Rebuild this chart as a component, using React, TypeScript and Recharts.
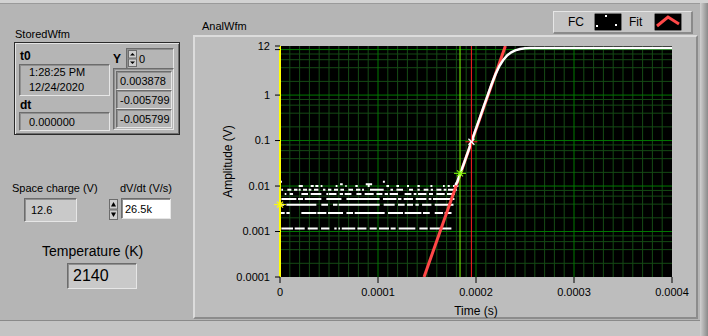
import React from "react";
import {
  ComposedChart,
  Line,
  XAxis,
  YAxis,
  CartesianGrid,
  ReferenceLine,
  ReferenceDot,
} from "recharts";

const FONT = "'Liberation Sans', Arial, sans-serif";
const PANEL = "#b5b5b5";

// time axis is in microseconds, labels shown in seconds
const xTicks = [0, 100, 200, 300, 400];
const xTickLabels = ["0", "0.0001", "0.0002", "0.0003", "0.0004"];
const yTicks = [0.0001, 0.001, 0.01, 0.1, 1, 10, 12];
const yTickLabels = ["0.0001", "0.001", "0.01", "0.1", "1", "", "12"];

const majorX = [100, 200, 300];
const minorX = Array.from({ length: 40 }, (_, i) => i * 10).filter((v) => v % 100 !== 0);
const majorY = [0.001, 0.01, 0.1, 1, 10];
const minorY = [0.0001, 0.001, 0.01, 0.1, 1].flatMap((d) => [2, 4, 6, 8].map((m) => m * d));

// FC: quantised noise runs before the rise, [start, end] in µs
const runs1 = [[1.4, 13.3], [15, 25.2], [28.3, 38.5], [41.9, 50.4], [55.4, 57.8], [59.6, 61.3], [63, 76.8], [79, 88.2], [91.5, 98.7], [101, 111.2], [112.9, 118], [121.1, 138.1], [142.2, 150.7], [152.8, 174.9]];
const runs2 = [[0.7, 4.8], [6.5, 9.9], [21.8, 37.1], [38.2, 47.3], [49, 64.3], [67.8, 74.5], [76.2, 106.8], [110.2, 125.5], [127.2, 144.3], [145.9, 152.8], [157.9, 166.3], [168, 175]];
const runs3 = [[0.7, 4.1], [6.5, 37.1], [42.2, 49], [54.1, 58.6], [59.9, 101.7], [105.8, 117], [120.4, 127.2], [129.6, 135.7], [138.2, 141.6], [145, 154.5], [157.9, 177]];
const runs4 = [[1.4, 16.7], [18.4, 23.5], [25.2, 42.2], [47.3, 62.7], [67.8, 101.7], [105.1, 118.8], [120.4, 123.9], [126.2, 135.7], [138.5, 149.4], [151.7, 154.5], [156.1, 178]];
const runs5 = [[4.8, 6.5], [9.9, 13.3], [21.8, 28.6], [31.3, 42.2], [47.3, 49], [49.7, 57.6], [60.9, 64.3], [66, 72.9], [78, 83.1], [86.4, 95.6], [98.4, 104.5], [106.8, 110.2], [111.9, 120.4], [127.2, 134.1], [136.4, 139.2], [140.8, 149.4], [152, 156.1], [159.6, 168.1], [170.4, 178.3]];
const runs6 = [[1.4, 3.1], [7.5, 11.6], [14.3, 17.8], [19.1, 21.1], [23.5, 27.6], [29.3, 32], [34.7, 39.2], [43.9, 46.3], [49, 52.4], [55.1, 59.2], [61.6, 65.3], [69.8, 74.5], [77.6, 82], [83.7, 85.7], [91.8, 105.8], [112.7, 115.3], [118.8, 125.5], [131.6, 135.7], [140.2, 142.6], [146.6, 151.4], [153.8, 156.1], [159.6, 164.7], [167, 169.8], [171.4, 180.6]];
const runs7 = [[19.1, 23.3], [31.3, 34.4], [36.1, 39.2], [41.5, 43.3], [56.8, 58.6], [66.7, 68], [76.9, 79.3], [89.5, 91.5], [108.6, 111.2], [118.8, 121.4], [129.6, 131.6], [140.2, 142.6], [153.5, 155.5], [166.3, 168.1], [171.1, 173.2], [176.5, 182]];
const runs8 = [[61.3, 64], [87.5, 94]];
const runs9 = [[0.5, 2], [105, 107]];
const noiseLevels = [0.00116, 0.00256, 0.0039, 0.0052, 0.0067, 0.0083, 0.01, 0.011, 0.0125];
const noiseRuns = [runs1, runs2, runs3, runs4, runs5, runs6, runs7, runs8, runs9];

// FC: the rising edge and plateau
const fcTime = [179, 181, 184, 188, 192, 196, 200, 204, 208, 212, 216, 220, 224, 228, 232, 236, 240, 245, 250, 255, 400];
const fcAmp = [0.0105, 0.0125, 0.019, 0.033, 0.058, 0.104, 0.183, 0.32, 0.57, 1.0, 1.75, 2.9, 4.4, 6.0, 7.5, 8.7, 9.6, 10.3, 10.7, 10.8, 10.8];

// Fit: straight line on the log axis
const fitTime = [147, 230];
const fitAmp = [0.0001, 12];

// cursors: [time µs, amplitude at marker]
const cursorYellow = [0, 0.0039];
const cursorGreen = [183.7, 0.019];
const cursorRed = [195.3, 0.094];

const noiseData = noiseRuns.flatMap((runs, i) =>
  runs.flatMap(([a, b]) => [
    { t: a, v: noiseLevels[i] },
    { t: b, v: noiseLevels[i] },
    { t: b, v: null },
  ])
);
const fcData = fcTime.map((t, i) => ({ t, v: fcAmp[i] }));
const fitData = fitTime.map((t, i) => ({ t, v: fitAmp[i] }));

const mark = (hColor: string, xColor: string) => (props: any) => {
  const { cx, cy } = props;
  return (
    <g>
      <line x1={cx - 6} y1={cy} x2={cx + 6} y2={cy} stroke={hColor} strokeWidth={1} />
      <line x1={cx - 3} y1={cy - 3} x2={cx + 3} y2={cy + 3} stroke={xColor} strokeWidth={1.2} />
      <line x1={cx - 3} y1={cy + 3} x2={cx + 3} y2={cy - 3} stroke={xColor} strokeWidth={1.2} />
    </g>
  );
};

const sunken: React.CSSProperties = {
  position: "absolute",
  boxSizing: "border-box",
  borderTop: "1px solid #6c6c6c",
  borderLeft: "1px solid #6c6c6c",
  borderBottom: "1px solid #e6e6e6",
  borderRight: "1px solid #e6e6e6",
  boxShadow: "inset 1px 1px 0 #8f8f8f",
};

function Field(props: { x: number; y: number; w: number; h: number; bg?: string; size?: number; children?: React.ReactNode; pad?: number }) {
  return (
    <div
      style={{
        ...sunken,
        left: props.x,
        top: props.y,
        width: props.w,
        height: props.h,
        background: props.bg || PANEL,
        fontSize: props.size || 11,
        paddingLeft: props.pad ?? 3,
        display: "flex",
        alignItems: "center",
        whiteSpace: "nowrap",
      }}
    >
      {props.children}
    </div>
  );
}

function Txt(props: { x: number; y: number; size?: number; bold?: boolean; children: React.ReactNode }) {
  return (
    <div
      style={{
        position: "absolute",
        left: props.x,
        top: props.y,
        fontSize: props.size || 11,
        fontWeight: props.bold ? "bold" : "normal",
        whiteSpace: "nowrap",
        lineHeight: 1,
      }}
    >
      {props.children}
    </div>
  );
}

function Spin(props: { x: number; y: number; h: number }) {
  const half = props.h / 2;
  return (
    <svg style={{ position: "absolute", left: props.x, top: props.y }} width={9} height={props.h}>
      <rect x={0.5} y={0.5} width={8} height={half - 1} fill="#cfcfcf" stroke="#6c6c6c" />
      <rect x={0.5} y={half + 0.5} width={8} height={half - 1} fill="#cfcfcf" stroke="#6c6c6c" />
      <path d={`M2 ${half - 3} L4.5 3 L7 ${half - 3} Z`} fill="#000" />
      <path d={`M2 ${half + 3} L4.5 ${props.h - 3} L7 ${half + 3} Z`} fill="#000" />
    </svg>
  );
}

export default function App() {
  return (
    <div
      style={{
        position: "absolute",
        left: 0,
        top: 0,
        width: 708,
        height: 336,
        background: PANEL,
        overflow: "hidden",
        fontFamily: FONT,
        color: "#000",
      }}
    >
      {/* window edges */}
      <div style={{ position: "absolute", left: 0, top: 0, width: 708, height: 3, background: "#d2d2d2" }} />
      <div style={{ position: "absolute", left: 0, top: 3, width: 700, height: 1, background: "#9a9a9a" }} />
      <div style={{ position: "absolute", left: 700, top: 3, width: 8, height: 333, background: "linear-gradient(to right, #d0d0d0, #8a8a8a)" }} />
      <div style={{ position: "absolute", left: 0, top: 320, width: 700, height: 16, background: "#c4c4c4", borderTop: "1px solid #8a8a8a" }} />

      {/* StoredWfm cluster */}
      <Txt x={15} y={29}>StoredWfm</Txt>
      <div
        style={{
          position: "absolute",
          left: 14,
          top: 42,
          width: 166,
          height: 93,
          boxSizing: "border-box",
          border: "1px solid #2a2a2a",
          boxShadow: "inset 1px 1px 0 #e4e4e4, inset -1px -1px 0 #6e6e6e",
          background: PANEL,
        }}
      />
      <Txt x={20} y={50} size={12} bold>t0</Txt>
      <Field x={19} y={64} w={91} h={32} pad={9}>
        <div style={{ lineHeight: "15px" }}>
          1:28:25 PM
          <br />
          12/24/2020
        </div>
      </Field>
      <Txt x={20} y={99} size={12} bold>dt</Txt>
      <Field x={19} y={112} w={91} h={19} pad={9}>0.000000</Field>
      <Txt x={113} y={53} size={12} bold>Y</Txt>
      <Field x={126} y={48} w={48} h={21} pad={12}>0</Field>
      <Spin x={128} y={50} h={17} />
      <div style={{ ...sunken, left: 113, top: 68, width: 61, height: 62, background: PANEL }} />
      <Field x={116} y={71} w={56} h={19}>0.003878</Field>
      <Field x={116} y={90} w={56} h={19}>-0.005799</Field>
      <Field x={116} y={109} w={56} h={19}>-0.005799</Field>

      {/* controls */}
      <Txt x={12} y={183}>Space charge (V)</Txt>
      <Field x={24} y={198} w={53} h={24} bg="#c9c9c9" pad={6}>12.6</Field>
      <Txt x={120} y={183}>dV/dt (V/s)</Txt>
      <Spin x={109} y={199} h={21} />
      <Field x={121} y={198} w={50} h={21} bg="#ffffff" pad={3}>26.5k</Field>
      <Txt x={42} y={244} size={14}>Temperature (K)</Txt>
      <Field x={67} y={263} w={70} h={26} bg="#c9c9c9" size={16} pad={5}>2140</Field>

      {/* graph frame */}
      <Txt x={202} y={21}>AnalWfm</Txt>
      <div
        style={{
          position: "absolute",
          left: 193,
          top: 35,
          width: 505,
          height: 284,
          boxSizing: "border-box",
          background: "#bdbdbd",
          borderTop: "2px solid #dcdcdc",
          borderLeft: "2px solid #dcdcdc",
          borderRight: "2px solid #8c8c8c",
          borderBottom: "2px solid #8c8c8c",
        }}
      />

      {/* legend */}
      <div
        style={{
          position: "absolute",
          left: 553,
          top: 11,
          width: 140,
          height: 23,
          boxSizing: "border-box",
          background: "#c4c4c4",
          borderTop: "1px solid #e6e6e6",
          borderLeft: "1px solid #e6e6e6",
          borderRight: "2px solid #8a8a8a",
          borderBottom: "2px solid #8a8a8a",
          fontSize: 12,
        }}
      >
        <div style={{ position: "absolute", left: 14, top: 3 }}>FC</div>
        <svg style={{ position: "absolute", left: 40, top: 1 }} width={28} height={18}>
          <rect x={0} y={0} width={28} height={18} fill="#000" stroke="#e0e0e0" />
          <rect x={11} y={2} width={2} height={2} fill="#fff" />
          <rect x={2} y={12} width={2} height={2} fill="#fff" />
          <rect x={21} y={11} width={2} height={2} fill="#fff" />
        </svg>
        <div style={{ position: "absolute", left: 75, top: 3 }}>Fit</div>
        <svg style={{ position: "absolute", left: 100, top: 1 }} width={28} height={18}>
          <rect x={0} y={0} width={28} height={18} fill="#000" stroke="#e0e0e0" />
          <path d="M3 13 L14 4 L25 11" stroke="#ff4848" strokeWidth={3} fill="none" />
        </svg>
      </div>

      {/* chart */}
      <div style={{ position: "absolute", left: 0, top: 0 }}>
        <ComposedChart width={708} height={336} margin={{ top: 46, right: 36, bottom: 19, left: 200 }}>
          <CartesianGrid
            fill="#000"
            fillOpacity={1}
            stroke="#154a15"
            verticalValues={minorX}
            horizontalValues={minorY}
          />
          <CartesianGrid
            stroke="#007a00"
            verticalValues={majorX}
            horizontalValues={majorY}
          />
          <XAxis
            type="number"
            dataKey="t"
            domain={[0, 400]}
            ticks={xTicks}
            interval={0}
            tickFormatter={(v) => xTickLabels[xTicks.indexOf(v)]}
            tickSize={6}
            tickMargin={5}
            axisLine={false}
            tickLine={{ stroke: "#000" }}
            tick={{ fill: "#000", fontSize: 11, fontFamily: FONT }}
            height={40}
            label={{ value: "Time (s)", position: "insideBottom", offset: 2, fill: "#000", fontSize: 12, fontFamily: FONT }}
          />
          <YAxis
            type="number"
            dataKey="v"
            scale="log"
            domain={[0.0001, 12]}
            allowDataOverflow
            ticks={yTicks}
            interval={0}
            tickFormatter={(v) => yTickLabels[yTicks.indexOf(v)]}
            tickSize={5}
            tickMargin={5}
            axisLine={false}
            tickLine={{ stroke: "#000" }}
            tick={{ fill: "#000", fontSize: 11, fontFamily: FONT }}
            width={80}
            label={{
              value: "Amplitude (V)",
              angle: -90,
              position: "insideLeft",
              offset: 28,
              fill: "#000",
              fontSize: 12,
              fontFamily: FONT,
              style: { textAnchor: "middle" },
            }}
          />
          <Line
            data={noiseData}
            dataKey="v"
            stroke="#ffffff"
            strokeWidth={2}
            strokeLinecap="butt"
            dot={false}
            connectNulls={false}
            isAnimationActive={false}
          />
          <Line
            data={fitData}
            dataKey="v"
            stroke="#ff4848"
            strokeWidth={3}
            dot={false}
            isAnimationActive={false}
          />
          <Line
            data={fcData}
            dataKey="v"
            stroke="#ffffff"
            strokeWidth={2.5}
            dot={false}
            isAnimationActive={false}
          />
          <ReferenceLine x={cursorYellow[0]} stroke="#ffff00" strokeWidth={2} />
          <ReferenceLine x={cursorGreen[0]} stroke="#80ff00" strokeWidth={1} />
          <ReferenceLine x={cursorRed[0]} stroke="#ff2020" strokeWidth={1} />
          <ReferenceDot x={cursorYellow[0]} y={cursorYellow[1]} shape={mark("#ffff00", "#ffff00")} />
          <ReferenceDot x={cursorGreen[0]} y={cursorGreen[1]} shape={mark("#80ff00", "#80ff00")} />
          <ReferenceDot x={cursorRed[0]} y={cursorRed[1]} shape={mark("#ff2020", "#ffffff")} />
        </ComposedChart>
      </div>
    </div>
  );
}
